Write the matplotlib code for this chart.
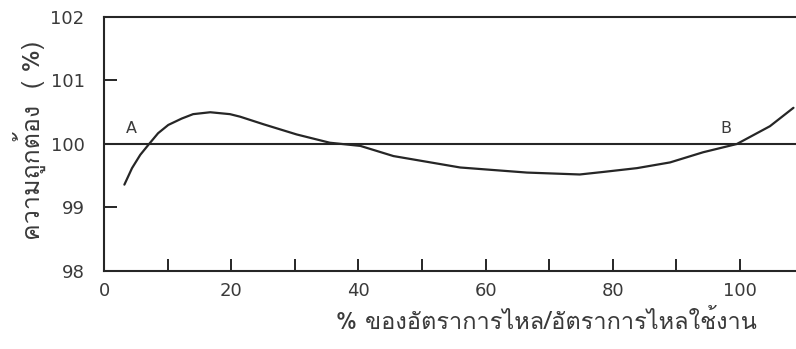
import matplotlib
matplotlib.use("Agg")
import matplotlib.pyplot as plt

# curve
flow_pct = [3.2, 4.4, 5.7, 7.0, 8.5, 10.1, 12.2, 14.0, 16.7, 19.8, 21.4,
            25.1, 30.3, 35.5, 40.3, 45.5, 56.0, 66.5, 74.8, 78.5, 83.8,
            89.0, 94.2, 99.5, 104.7, 108.4]
accuracy = [99.36, 99.62, 99.83, 99.99, 100.17, 100.30, 100.40, 100.47,
            100.50, 100.47, 100.43, 100.31, 100.15, 100.02, 99.97, 99.81,
            99.63, 99.55, 99.52, 99.56, 99.62, 99.71, 99.87, 100.00, 100.28,
            100.57]

ref_level = 100
xticks_minor = [10, 20, 30, 40, 50, 60, 70, 80, 90, 100]
xtick_labels = [0, 20, 40, 60, 80, 100]
yticks = [98, 99, 100, 101, 102]
points = {"A": (4.3, 100.24), "B": (97.8, 100.25)}

xlabel = "% ของอัตราการไหล/อัตราการไหลใช้งาน"
ylabel = "ความถูกต้อง  ( %)"

ink = "#262626"
txt = "#3a3a3a"
thai = ["Loma", "Noto Sans Thai", "DejaVu Sans"]

fig = plt.figure(figsize=(7.96, 3.49), dpi=100)
ax = fig.add_axes([0.1307, 0.2235, 0.8693, 0.7278])

ax.plot(flow_pct, accuracy, color=ink, lw=1.6, solid_capstyle="round",
        solid_joinstyle="round")
ax.axhline(ref_level, color=ink, lw=1.5)

for name, (px, py) in points.items():
    ax.text(px, py, name, fontsize=11.5, color=txt, ha="center", va="center")

ax.set_xlim(0, 108.8)
ax.set_ylim(98, 102)

ax.spines["right"].set_visible(False)
for s in ["left", "bottom", "top"]:
    ax.spines[s].set_linewidth(1.5)
    ax.spines[s].set_color(ink)

ax.set_xticks(xticks_minor)
ax.set_xticklabels([])
ax.tick_params(axis="x", direction="in", length=9, width=1.4, color=ink)
# numbers only every 20 %, drawn under the axis line
for v in xtick_labels:
    ax.text(v, 97.83, str(v), fontsize=13, color=txt, ha="center", va="top")

ax.set_yticks(yticks)
ax.set_yticklabels([str(v) for v in yticks], fontsize=13, color=txt)
ax.tick_params(axis="y", direction="in", length=9, width=1.4, color=ink, pad=14)

fig.text(0.687, 0.077, xlabel, fontsize=17, color=txt, ha="center",
         va="center", family=thai)
fig.text(0.037, 0.599, ylabel, fontsize=18, color=txt, ha="center",
         va="center", rotation=90, family=thai)

fig.savefig("out.png", dpi=100)
